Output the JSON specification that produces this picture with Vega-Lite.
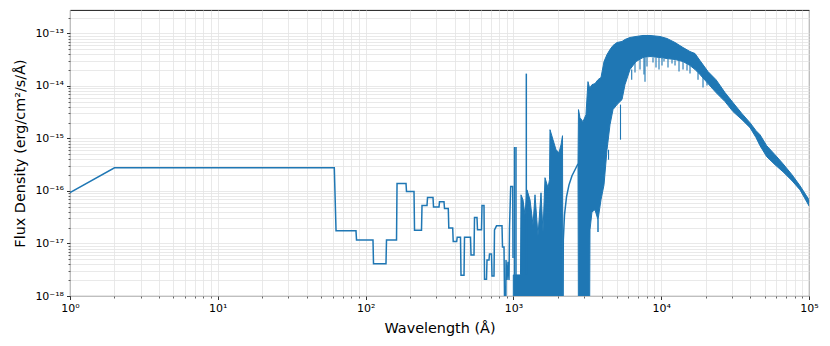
{
  "$schema": "https://vega.github.io/schema/vega-lite/v6.json",
  "width": 739,
  "height": 286,
  "autosize": {"type": "none"},
  "padding": {"left": 70, "top": 10, "right": 21, "bottom": 50},
  "config": {
    "font": "DejaVu Sans",
    "view": {"stroke": "black", "strokeWidth": 0.9},
    "axis": {
      "domain": false,
      "tickColor": "black",
      "labelColor": "black",
      "titleColor": "black",
      "labelFontSize": 11,
      "titleFontSize": 14.4,
      "titleFontWeight": "normal",
      "gridColor": "#e3e3e3",
      "gridWidth": 0.8,
      "labelPadding": 3
    }
  },
  "datasets": {
    "steps": [
      {"wl": 1, "y": 9.35e-17}, {"wl": 2, "y": 2.77e-16}, {"wl": 61.4, "y": 2.77e-16}, {"wl": 63.1, "y": 1.74e-17},
      {"wl": 86.1, "y": 1.74e-17}, {"wl": 86.8, "y": 1.17e-17}, {"wl": 112.2, "y": 1.17e-17}, {"wl": 113.1, "y": 4.13e-18},
      {"wl": 137.4, "y": 4.13e-18}, {"wl": 138.5, "y": 1.17e-17}, {"wl": 161.9, "y": 1.17e-17}, {"wl": 163.2, "y": 1.39e-16},
      {"wl": 187.7, "y": 1.39e-16}, {"wl": 189.1, "y": 9.78e-17}, {"wl": 212.6, "y": 9.78e-17}, {"wl": 214.3, "y": 1.79e-17},
      {"wl": 238.9, "y": 1.79e-17}, {"wl": 240.8, "y": 5.29e-17}, {"wl": 260.3, "y": 5.29e-17}, {"wl": 262.4, "y": 7.52e-17},
      {"wl": 285.8, "y": 7.52e-17}, {"wl": 288.1, "y": 4.93e-17}, {"wl": 313.8, "y": 4.93e-17}, {"wl": 316.2, "y": 6.22e-17},
      {"wl": 339.2, "y": 6.22e-17}, {"wl": 341.9, "y": 4.63e-17}, {"wl": 362.6, "y": 4.63e-17}, {"wl": 365.5, "y": 1.98e-17},
      {"wl": 388.4, "y": 1.98e-17}, {"wl": 391.5, "y": 1.09e-17}, {"wl": 413.4, "y": 1.09e-17}, {"wl": 416.6, "y": 1.32e-17},
      {"wl": 438.6, "y": 1.32e-17}, {"wl": 442.1, "y": 2.48e-18}, {"wl": 463.3, "y": 2.48e-18}, {"wl": 466.9, "y": 1.32e-17},
      {"wl": 512.6, "y": 1.32e-17}, {"wl": 516.7, "y": 6.06e-18}, {"wl": 541.4, "y": 6.06e-18}, {"wl": 545.6, "y": 3.12e-17},
      {"wl": 567.2, "y": 3.12e-17}, {"wl": 571.6, "y": 1.82e-17}, {"wl": 608.4, "y": 1.82e-17}, {"wl": 613.2, "y": 5.29e-17},
      {"wl": 632.6, "y": 5.29e-17}, {"wl": 637.6, "y": 2.08e-18}, {"wl": 657.7, "y": 2.08e-18}, {"wl": 662.9, "y": 4.86e-18},
      {"wl": 683.8, "y": 4.86e-18}, {"wl": 689.1, "y": 6.33e-18}, {"wl": 710.9, "y": 6.33e-18}, {"wl": 716.5, "y": 2.41e-18},
      {"wl": 739.1, "y": 2.41e-18}, {"wl": 744.9, "y": 1.82e-17}, {"wl": 768.6, "y": 2.17e-17}, {"wl": 837.3, "y": 2.17e-17},
      {"wl": 843.9, "y": 8.61e-18}, {"wl": 864.0, "y": 8.61e-18}, {"wl": 877.6, "y": 1e-19}, {"wl": 887.2, "y": 1e-19},
      {"wl": 891.3, "y": 4.86e-18}, {"wl": 905.5, "y": 2.02e-18}, {"wl": 919.7, "y": 4.46e-18}, {"wl": 933.9, "y": 2.02e-18},
      {"wl": 941.1, "y": 1.98e-17}, {"wl": 958.8, "y": 1.22e-16}, {"wl": 989.2, "y": 1.22e-16}, {"wl": 993.9, "y": 5.31e-18}
    ],
    "arc": [
      {"wl": 2158.8, "y": 1e-19}, {"wl": 2175.9, "y": 1.17e-17}, {"wl": 2216.8, "y": 3.51e-17}, {"wl": 2287.2, "y": 7.75e-17},
      {"wl": 2378.0, "y": 1.31e-16}, {"wl": 2491.6, "y": 1.95e-16}, {"wl": 2632.0, "y": 2.65e-16}, {"wl": 2735.6, "y": 3.30e-16}
    ],
    "band": [
      {"seg": "a", "wl": 998.4, "y": 2.52e-18, "y2": 1e-19}, {"seg": "a", "wl": 1116.8, "y": 2.52e-18, "y2": 1e-19},
      {"seg": "a", "wl": 1125.5, "y": 8.46e-17, "y2": 1e-19}, {"seg": "a", "wl": 1161.1, "y": 6.79e-17, "y2": 1e-19},
      {"seg": "a", "wl": 1198.0, "y": 3.51e-17, "y2": 1e-19}, {"seg": "a", "wl": 1235.9, "y": 1.05e-16, "y2": 1e-19},
      {"seg": "a", "wl": 1295.2, "y": 6.79e-17, "y2": 1e-19}, {"seg": "a", "wl": 1357.1, "y": 2.26e-17, "y2": 1e-19},
      {"seg": "a", "wl": 1400.1, "y": 8.46e-17, "y2": 1e-19}, {"seg": "a", "wl": 1466.9, "y": 1.40e-17, "y2": 1e-19},
      {"seg": "a", "wl": 1537.3, "y": 9.24e-17, "y2": 1e-19}, {"seg": "a", "wl": 1586.1, "y": 1.66e-17, "y2": 1e-19},
      {"seg": "a", "wl": 1636.2, "y": 1.79e-16, "y2": 1e-19}, {"seg": "a", "wl": 1714.6, "y": 1.15e-16, "y2": 1e-19},
      {"seg": "a", "wl": 1755.0, "y": 1.64e-16, "y2": 1e-19}, {"seg": "a", "wl": 1768.7, "y": 1.47e-15, "y2": 1e-19},
      {"seg": "a", "wl": 1853.3, "y": 9.49e-16, "y2": 1e-19}, {"seg": "a", "wl": 1941.8, "y": 6.11e-16, "y2": 1e-19},
      {"seg": "a", "wl": 2034.8, "y": 5.36e-16, "y2": 1e-19}, {"seg": "a", "wl": 2099.4, "y": 7.61e-16, "y2": 1e-19},
      {"seg": "a", "wl": 2148.9, "y": 1.13e-15, "y2": 1e-19}, {"seg": "a", "wl": 2165.7, "y": 1e-19, "y2": 1e-19},
      {"seg": "b", "wl": 2735.6, "y": 3.30e-16, "y2": 3.30e-16}, {"seg": "b", "wl": 2757, "y": 3.55e-15, "y2": 1e-19},
      {"seg": "b", "wl": 2822, "y": 2.49e-15, "y2": 1e-19}, {"seg": "b", "wl": 2957, "y": 2.09e-15, "y2": 1e-19},
      {"seg": "b", "wl": 3098, "y": 2.84e-15, "y2": 1e-19}, {"seg": "b", "wl": 3196, "y": 1.21e-14, "y2": 1e-19},
      {"seg": "b", "wl": 3272, "y": 9.32e-15, "y2": 1e-19}, {"seg": "b", "wl": 3298, "y": 9.32e-15, "y2": 1.82e-17},
      {"seg": "b", "wl": 3402, "y": 1.06e-14, "y2": 4.01e-17}, {"seg": "b", "wl": 3565, "y": 1.11e-14, "y2": 4.38e-17},
      {"seg": "b", "wl": 3736, "y": 1.32e-14, "y2": 2.82e-17}, {"seg": "b", "wl": 3914, "y": 1.45e-14, "y2": 6.79e-17},
      {"seg": "b", "wl": 4102, "y": 2.92e-14, "y2": 1.31e-16}, {"seg": "b", "wl": 4299, "y": 3.97e-14, "y2": 6.11e-16},
      {"seg": "b", "wl": 4504, "y": 4.95e-14, "y2": 1.83e-15}, {"seg": "b", "wl": 4720, "y": 5.90e-14, "y2": 3.55e-15},
      {"seg": "b", "wl": 5023, "y": 6.73e-14, "y2": 4.42e-15}, {"seg": "b", "wl": 5430, "y": 7.04e-14, "y2": 5.50e-15},
      {"seg": "b", "wl": 5689, "y": 7.68e-14, "y2": 1.06e-14}, {"seg": "b", "wl": 6151, "y": 8.39e-14, "y2": 2.06e-14},
      {"seg": "b", "wl": 6752, "y": 8.76e-14, "y2": 2.92e-14}, {"seg": "b", "wl": 7532, "y": 9.16e-14, "y2": 3.48e-14},
      {"seg": "b", "wl": 8401, "y": 9.16e-14, "y2": 3.64e-14}, {"seg": "b", "wl": 9815, "y": 8.76e-14, "y2": 3.48e-14},
      {"seg": "b", "wl": 10944, "y": 8.03e-14, "y2": 3.33e-14}, {"seg": "b", "wl": 12402, "y": 6.73e-14, "y2": 3.19e-14},
      {"seg": "b", "wl": 14048, "y": 5.40e-14, "y2": 2.92e-14}, {"seg": "b", "wl": 15664, "y": 4.53e-14, "y2": 2.45e-14},
      {"seg": "b", "wl": 16935, "y": 4.15e-14, "y2": 2.06e-14}, {"seg": "b", "wl": 18302, "y": 3.05e-14, "y2": 1.65e-14},
      {"seg": "b", "wl": 20732, "y": 1.88e-14, "y2": 1.11e-14}, {"seg": "b", "wl": 23487, "y": 1.32e-14, "y2": 7.48e-15},
      {"seg": "b", "wl": 27023, "y": 7.48e-15, "y2": 5.04e-15}, {"seg": "b", "wl": 30605, "y": 4.82e-15, "y2": 3.25e-15},
      {"seg": "b", "wl": 35219, "y": 2.97e-15, "y2": 2.28e-15}, {"seg": "b", "wl": 39883, "y": 2.00e-15, "y2": 1.61e-15},
      {"seg": "b", "wl": 43793, "y": 1.41e-15, "y2": 1.04e-15}, {"seg": "b", "wl": 46615, "y": 1.18e-15, "y2": 7.29e-16},
      {"seg": "b", "wl": 51737, "y": 7.29e-16, "y2": 4.50e-16}, {"seg": "b", "wl": 58884, "y": 4.91e-16, "y2": 3.16e-16},
      {"seg": "b", "wl": 66704, "y": 3.30e-16, "y2": 2.32e-16}, {"seg": "b", "wl": 76736, "y": 2.04e-16, "y2": 1.57e-16},
      {"seg": "b", "wl": 86929, "y": 1.26e-16, "y2": 1.05e-16}, {"seg": "b", "wl": 100000, "y": 6.79e-17, "y2": 5.22e-17}
    ],
    "spikes": [
      {"wl": 1017.2, "y": 6.88e-16, "y2": 2.52e-18, "w": "thick"}, {"wl": 1041.4, "y": 6.88e-16, "y2": 2.52e-18, "w": "thick"},
      {"wl": 1222.9, "y": 1.72e-14, "y2": 2.52e-18, "w": "thick"}, {"wl": 3736, "y": 2.82e-17, "y2": 1.66e-17, "w": "thick"},
      {"wl": 4402, "y": 6.11e-16, "y2": 3.94e-16, "w": "thin"}, {"wl": 5304, "y": 4.42e-15, "y2": 9.49e-16, "w": "thin"},
      {"wl": 6316, "y": 2.06e-14, "y2": 1.32e-14, "w": "thin"}, {"wl": 6648, "y": 2.92e-14, "y2": 1.80e-14, "w": "thin"},
      {"wl": 7188, "y": 3.2e-14, "y2": 2.06e-14, "w": "thin"}, {"wl": 7647, "y": 3.4e-14, "y2": 1.65e-14, "w": "thin"},
      {"wl": 7769, "y": 3.4e-14, "y2": 1.21e-14, "w": "thin"}, {"wl": 8014, "y": 3.5e-14, "y2": 2.35e-14, "w": "thin"},
      {"wl": 8800, "y": 3.5e-14, "y2": 2.80e-14, "w": "thin"}, {"wl": 9222, "y": 3.5e-14, "y2": 2.24e-14, "w": "thin"},
      {"wl": 9663, "y": 3.4e-14, "y2": 2.06e-14, "w": "thin"}, {"wl": 10125, "y": 3.4e-14, "y2": 2.45e-14, "w": "thin"},
      {"wl": 10445, "y": 3.3e-14, "y2": 2.92e-14, "w": "thin"}, {"wl": 11117, "y": 3.3e-14, "y2": 2.24e-14, "w": "thin"},
      {"wl": 11834, "y": 3.2e-14, "y2": 2.68e-14, "w": "thin"}, {"wl": 12402, "y": 3.1e-14, "y2": 2.45e-14, "w": "thin"},
      {"wl": 13198, "y": 3.0e-14, "y2": 1.88e-14, "w": "thin"}, {"wl": 14048, "y": 2.9e-14, "y2": 2.06e-14, "w": "thin"},
      {"wl": 14948, "y": 2.6e-14, "y2": 1.97e-14, "w": "thin"}, {"wl": 15664, "y": 2.4e-14, "y2": 1.72e-14, "w": "thin"},
      {"wl": 17745, "y": 1.8e-14, "y2": 1.32e-14, "w": "thin"}, {"wl": 19181, "y": 1.5e-14, "y2": 9.32e-15, "w": "thin"},
      {"wl": 20417, "y": 1.2e-14, "y2": 1.02e-14, "w": "thin"}
    ]
  },
  "encoding": {
    "x": {
      "field": "wl",
      "type": "quantitative",
      "scale": {"type": "log", "domain": [1, 100000], "nice": false},
      "axis": {
        "title": "Wavelength (Å)",
        "values": [1,2,3,4,5,6,7,8,9,10,20,30,40,50,60,70,80,90,100,200,300,400,500,600,700,800,900,1000,2000,3000,4000,5000,6000,7000,8000,9000,10000,20000,30000,40000,50000,60000,70000,80000,90000,100000],
        "labelExpr": "abs(log(datum.value)/LN10 - round(log(datum.value)/LN10)) < 0.001 ? '10' + ['⁰','¹','²','³','⁴','⁵'][round(log(datum.value)/LN10)] : ''",
        "grid": true,
        "tickSize": {"condition": {"test": "abs(log(datum.value)/LN10 - round(log(datum.value)/LN10)) > 0.001", "value": 2}, "value": 3.5},
        "tickWidth": {"condition": {"test": "abs(log(datum.value)/LN10 - round(log(datum.value)/LN10)) > 0.001", "value": 0.6}, "value": 0.8},
        "labelFlush": false,
        "labelOverlap": false,
        "labelBound": false,
        "titleY": 36.3,
        "titleBaseline": "alphabetic"
      }
    },
    "y": {
      "field": "y",
      "type": "quantitative",
      "scale": {"type": "log", "domain": [1e-18, 2.8e-13], "nice": false},
      "axis": {
        "title": "Flux Density (erg/cm²/s/Å)",
        "values": [1e-18,2e-18,3e-18,4e-18,5e-18,6e-18,7e-18,8e-18,9e-18,1e-17,2e-17,3e-17,4e-17,5e-17,6e-17,7e-17,8e-17,9e-17,1e-16,2e-16,3e-16,4e-16,5e-16,6e-16,7e-16,8e-16,9e-16,1e-15,2e-15,3e-15,4e-15,5e-15,6e-15,7e-15,8e-15,9e-15,1e-14,2e-14,3e-14,4e-14,5e-14,6e-14,7e-14,8e-14,9e-14,1e-13,2e-13],
        "labelExpr": "abs(log(datum.value)/LN10 - round(log(datum.value)/LN10)) < 0.001 ? '10⁻¹' + ['³','⁴','⁵','⁶','⁷','⁸'][-round(log(datum.value)/LN10) - 13] : ''",
        "grid": true,
        "tickSize": {"condition": {"test": "abs(log(datum.value)/LN10 - round(log(datum.value)/LN10)) > 0.001", "value": 2}, "value": 3.5},
        "tickWidth": {"condition": {"test": "abs(log(datum.value)/LN10 - round(log(datum.value)/LN10)) > 0.001", "value": 0.6}, "value": 0.8},
        "labelOverlap": false,
        "labelFlush": false,
        "labelBound": false,
        "titleX": -46,
        "titleY": 143,
        "titleAlign": "center",
        "titleBaseline": "alphabetic",
        "titleAngle": 270
      }
    }
  },
  "layer": [
    {
      "data": {"name": "band"},
      "mark": {"type": "area", "clip": true, "color": "#1f77b4", "stroke": "#1f77b4", "strokeWidth": 1, "opacity": 1},
      "encoding": {"y2": {"field": "y2"}, "detail": {"field": "seg"}}
    },
    {
      "data": {"name": "spikes"},
      "mark": {"type": "rule", "clip": true, "color": "#1f77b4"},
      "encoding": {
        "y2": {"field": "y2"},
        "strokeWidth": {"field": "w", "type": "nominal", "scale": {"domain": ["thick", "thin"], "range": [1.5, 1.1]}, "legend": null}
      }
    },
    {
      "data": {"name": "steps"},
      "mark": {"type": "line", "clip": true, "color": "#1f77b4", "strokeWidth": 1.5},
      "encoding": {}
    },
    {
      "data": {"name": "arc"},
      "mark": {"type": "line", "clip": true, "color": "#1f77b4", "strokeWidth": 1.5},
      "encoding": {}
    }
  ]
}
